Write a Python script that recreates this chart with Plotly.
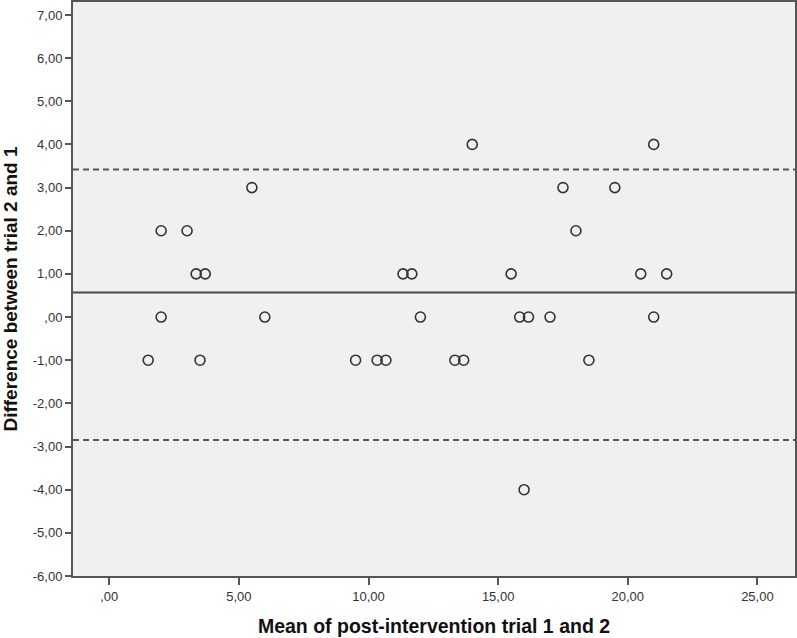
import plotly.graph_objects as go

# Data
mean_vals = [1.5, 2.0, 2.0, 3.0, 3.35, 3.7, 3.5, 5.5, 6.0, 9.5, 10.33, 10.67,
             11.33, 11.67, 12.0, 13.33, 13.67, 14.0, 15.5, 15.83, 16.17, 16.0,
             17.0, 17.5, 18.0, 18.5, 19.5, 20.5, 21.0, 21.0, 21.5]
diff_vals = [-1, 0, 2, 2, 1, 1, -1, 3, 0, -1, -1, -1,
             1, 1, 0, -1, -1, 4, 1, 0, 0, -4,
             0, 3, 2, -1, 3, 1, 4, 0, 1]

mean_diff = 0.57
upper_loa = 3.42
lower_loa = -2.85

x_ticks = [0, 5, 10, 15, 20, 25]
x_ticktext = [",00", "5,00", "10,00", "15,00", "20,00", "25,00"]
y_ticks = [7, 6, 5, 4, 3, 2, 1, 0, -1, -2, -3, -4, -5, -6]
y_ticktext = ["7,00", "6,00", "5,00", "4,00", "3,00", "2,00", "1,00", ",00",
              "-1,00", "-2,00", "-3,00", "-4,00", "-5,00", "-6,00"]

fig = go.Figure()

fig.add_trace(go.Scatter(
    x=mean_vals, y=diff_vals, mode="markers",
    marker=dict(symbol="circle-open", size=10, color="#333333",
                line=dict(width=1.6, color="#333333")),
    showlegend=False, hoverinfo="x+y"))

fig.add_hline(y=mean_diff, line=dict(color="#4a4a4a", width=2, dash="solid"))
fig.add_hline(y=upper_loa, line=dict(color="#555555", width=2, dash="6px,4px"))
fig.add_hline(y=lower_loa, line=dict(color="#555555", width=2, dash="6px,4px"))

font_family = "Liberation Sans, Arial, sans-serif"

fig.update_layout(
    width=797, height=638,
    margin=dict(l=73, r=2, t=2, b=62),
    paper_bgcolor="white",
    plot_bgcolor="#f0f0f0",
    font=dict(family=font_family, size=13, color="#222222"),
    xaxis=dict(
        range=[-1.4, 26.45], tickvals=x_ticks, ticktext=x_ticktext,
        showgrid=False, zeroline=False, automargin=False,
        showline=True, mirror=True, linecolor="#555555", linewidth=2,
        ticks="outside", ticklen=7, tickwidth=1.5, tickcolor="#555555",
        tickfont=dict(size=13, color="#333333"),
        title=dict(text="<b>Mean of post-intervention trial 1 and 2</b>",
                   font=dict(size=19.5, color="#111111", family=font_family),
                   standoff=17),
    ),
    yaxis=dict(
        range=[-6, 7.3], tickvals=y_ticks, ticktext=y_ticktext,
        showgrid=False, zeroline=False, automargin=False,
        showline=True, mirror=True, linecolor="#555555", linewidth=2,
        ticks="outside", ticklen=6, tickwidth=1.5, tickcolor="#555555",
        tickfont=dict(size=13, color="#333333"),
        title=dict(text="<b>Difference between trial 2 and 1</b>",
                   font=dict(size=19, color="#111111", family=font_family),
                   standoff=14),
    ),
)

fig.write_html("out.html",
               config={"displayModeBar": False},
               post_script="document.body.style.margin='0';document.body.style.padding='0';")
